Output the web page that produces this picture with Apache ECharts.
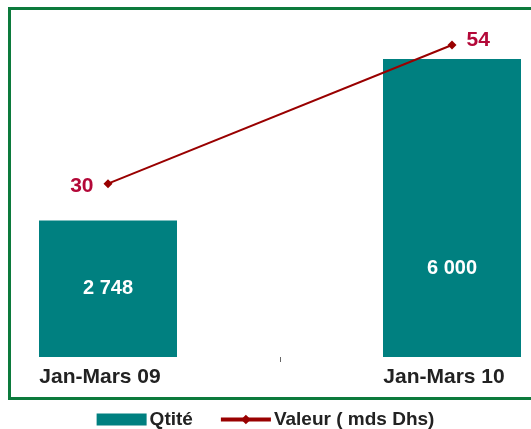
<!DOCTYPE html>
<html><head><meta charset="utf-8">
<script src="https://cdn.jsdelivr.net/npm/echarts@6/dist/echarts.min.js"></script>
<style>html,body{margin:0;padding:0;background:#fff}#c{width:531px;height:429px}</style>
</head><body><div id="c"></div>
<script>
const categories = ['Jan-Mars 09', 'Jan-Mars 10'];
const qtite = [2748, 6000];
const valeur = [30, 54];
const qtiteLabels = ['2 748', '6 000'];

const chart = echarts.init(document.getElementById('c'), null, {renderer: 'canvas'});
const FONT = '"Liberation Sans", Arial, sans-serif';
chart.setOption({
  backgroundColor: '#ffffff',
  animation: false,
  graphic: [{
    type: 'rect', z: 100, silent: true,
    shape: {x: 9.5, y: 8.5, width: 540, height: 390},
    style: {fill: 'none', stroke: '#0c7a3c', lineWidth: 3}
  }],
  grid: {left: -64, width: 688, top: 30, bottom: 72, containLabel: false, outerBoundsMode: 'none'},
  legend: {
    top: 410, left: 'center', padding: 0,
    itemWidth: 50, itemHeight: 12, itemGap: 26,
    textStyle: {fontFamily: FONT, fontWeight: 'bold', fontSize: 19, color: '#222', padding: [0, 0, 0, -2]},
    data: [
      {name: 'Qtité', icon: 'rect', itemStyle: {color: '#008080'}},
      {name: 'Valeur ( mds Dhs)', lineStyle: {width: 4, color: '#990000'}}
    ]
  },
  xAxis: {
    type: 'category', data: categories, boundaryGap: true,
    axisLine: {show: false},
    axisTick: {show: true, length: 5, lineStyle: {color: '#666', width: 1}},
    axisLabel: {fontFamily: FONT, fontWeight: 'bold', fontSize: 21, color: '#222', margin: 10, padding: [0, 16, 0, 0]}
  },
  yAxis: [
    {type: 'value', min: 0, max: 6584, show: false, splitLine: {show: false}},
    {type: 'value', min: 0, max: 56.6, show: false, splitLine: {show: false}}
  ],
  series: [
    {
      name: 'Qtité', type: 'bar', yAxisIndex: 0, barWidth: 138,
      itemStyle: {color: '#008080'},
      data: qtite.map((v, i) => ({
        value: v,
        label: i === 0 ? {position: 'inside'} : {position: 'insideBottom', distance: 79}
      })),
      label: {
        show: true, color: '#fff', fontFamily: FONT, fontWeight: 'bold', fontSize: 20,
        formatter: p => qtiteLabels[p.dataIndex]
      }
    },
    {
      name: 'Valeur ( mds Dhs)', type: 'line', yAxisIndex: 1,
      symbol: 'diamond', symbolSize: 9,
      lineStyle: {color: '#990000', width: 2},
      itemStyle: {color: '#990000'},
      data: valeur.map((v, i) => ({
        value: v,
        label: i === 0 ? {position: 'left', distance: 10, offset: [0, 3]} : {position: 'right', distance: 10, offset: [0, -5]}
      })),
      label: {show: true, color: '#b30838', fontFamily: FONT, fontWeight: 'bold', fontSize: 21}
    }
  ]
});
</script></body></html>
